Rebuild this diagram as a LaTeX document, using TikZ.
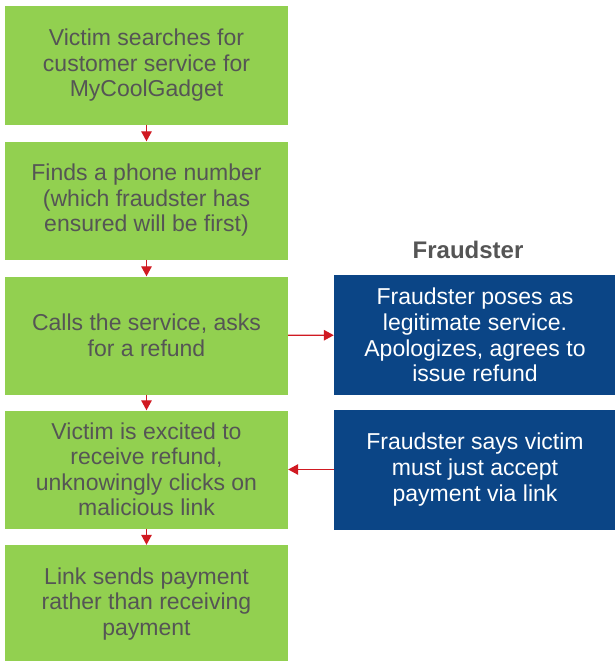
\documentclass[tikz,border=0pt]{standalone}
\usepackage{fontspec}
\setmainfont{Liberation Sans}
\usetikzlibrary{arrows.meta}

\definecolor{boxgreen}{HTML}{92D050}
\definecolor{boxblue}{HTML}{0B4586}
\definecolor{txtgrey}{HTML}{555555}
\definecolor{arrowred}{HTML}{D01A22}

\begin{document}
\begin{tikzpicture}[x=1pt,y=-1pt,
    victim/.style={rectangle,
          fill = boxgreen,
          text = txtgrey,
          minimum width = 283pt,
          minimum height = 118pt,
          inner sep = 0pt,
          align = center,
          font = \fontsize{23}{25.5}\selectfont},
    fraud/.style={rectangle,
          fill = boxblue,
          text = white,
          minimum width = 282pt,
          minimum height = 120pt,
          inner sep = 0pt,
          align = center,
          font = \fontsize{23}{25.7}\selectfont},
    link/.style={->, >={Triangle[length=10pt,width=10.5pt]},
          color = arrowred, line width = 1.3pt}]

    \useasboundingbox (0,0) rectangle (614,661);

    % victim side
    \node[victim] (search) at (146.5,65.5)
        {Victim searches for\\customer service for\\MyCoolGadget};
    \node[victim] (phone) at (146.5,200.5)
        {Finds a phone number\\(which fraudster has\\ensured will be first)};
    \node[victim] (call) at (146.5,335.5)
        {Calls the service, asks\\for a refund};
    \node[victim] (excited) at (146.5,469.5)
        {Victim is excited to\\receive refund,\\unknowingly clicks on\\malicious link};
    \node[victim] (pays) at (146.5,604)
        {Link sends payment\\rather than receiving\\payment};

    % fraudster side
    \node[font=\fontsize{24}{28}\selectfont\bfseries, text=txtgrey]
        (head) at (468,250) {Fraudster};
    \node[fraud] (poses) at (475,335)
        {Fraudster poses as\\legitimate service.\\Apologizes, agrees to\\issue refund};
    \node[fraud] (accept) at (475,469.5)
        {Fraudster says victim\\must just accept\\payment via link};

    \path[link]
    (search) edge (phone)
    (phone) edge (call)
    (call) edge (excited)
    (excited) edge (pays)
    (call) edge (poses)
    (accept) edge (excited);

\end{tikzpicture}
\end{document}
